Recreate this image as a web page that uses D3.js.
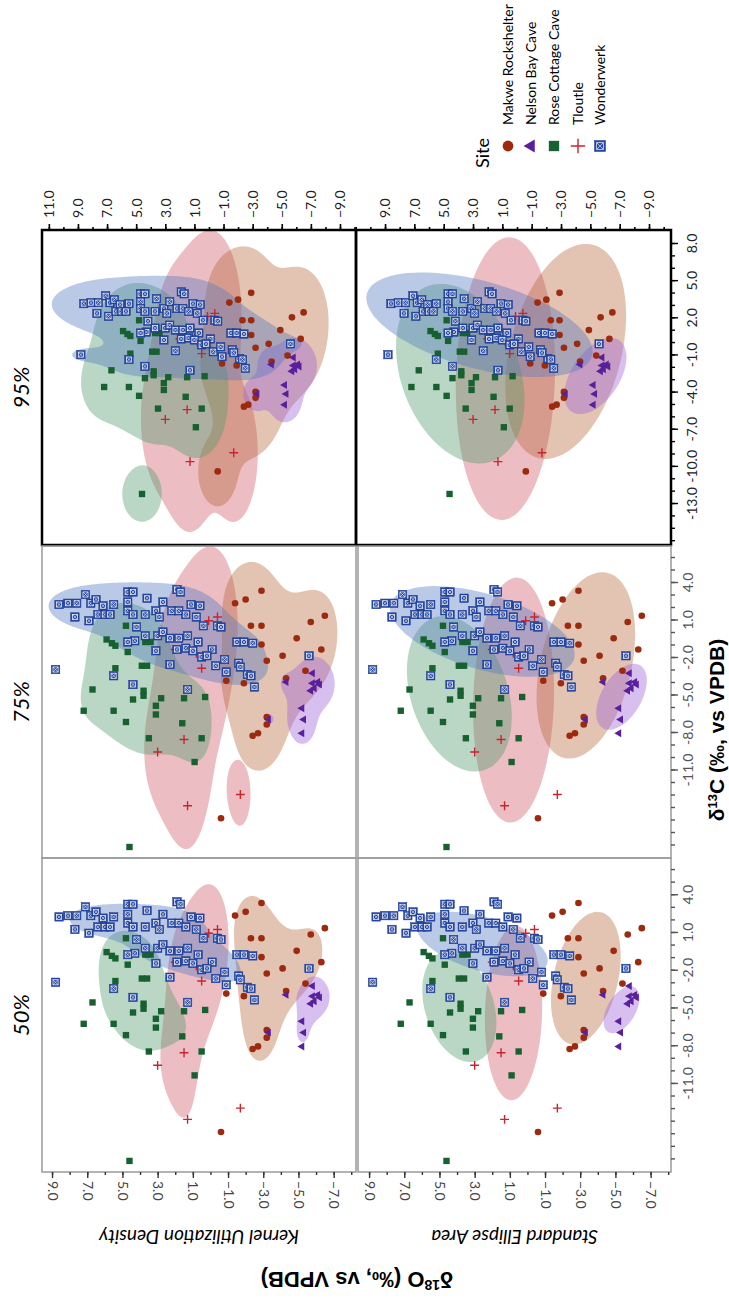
<!DOCTYPE html>
<html>
<head>
<meta charset="utf-8">
<script src="https://cdnjs.cloudflare.com/ajax/libs/d3/7.8.5/d3.min.js"></script>
<style>
body { margin: 0; background: #fff; }
svg text { font-family: Lato, "Open Sans", sans-serif; }
</style>
</head>
<body>
<div id="chart"></div>
<script>
// sites, in legend order
const siteNames = ["Makwe Rockshelter", "Nelson Bay Cave", "Rose Cottage Cave", "Tloutle", "Wonderwerk"];
const pointColors = ["#9c2a0e", "#5a1f9c", "#16612f", "#c8262c", "#2647a3"];
const fillColors = ["#b86a3e", "#9c62d9", "#4f9a6c", "#cf5a6a", "#5277bf"];

// each sample: [d13C, d18O]
const makwe = [
    [2.3, -1.4], [2.6, -2.0], [3.3, -2.9], [0.5, -2.3], [0.5, -2.9], [-1.0, -2.9],
    [-2.3, -3.2], [-1.9, -4.1], [-0.5, -4.9], [0.8, -5.7], [1.3, -6.5], [-1.4, -6.3],
    [-3.7, -4.3], [-3.1, -5.4], [-3.9, -0.9], [-4.1, -1.9], [-6.8, -3.2], [-7.4, -3.2],
    [-8.1, -2.7], [-8.3, -2.4], [-14.9, -0.6]
];
const nelsonBay = [
    [-4.0, -4.3], [-3.3, -5.8], [-4.1, -5.8], [-4.0, -6.1], [-4.2, -6.2], [-4.5, -5.9],
    [-4.7, -5.7], [-6.1, -5.2], [-7.0, -5.3], [-8.1, -5.2], [-7.0, -3.3]
];
const roseCottage = [
    [0.5, 4.8], [-0.6, 5.9], [-0.9, 5.6], [-1.1, 5.4], [-1.6, 4.7], [-0.8, 3.7],
    [-0.8, 3.4], [-2.7, 3.9], [-2.7, 3.6], [-2.9, 5.4], [-4.6, 6.7], [-6.3, 7.2],
    [-6.3, 5.5], [-7.2, 4.8], [-5.4, 4.4], [-4.7, 3.8], [-5.1, 3.8], [-5.3, 2.8],
    [-5.9, 3.1], [-6.6, 3.1], [-5.3, 1.5], [-5.2, 0.3], [-7.3, 1.6], [-8.5, 3.5],
    [-8.5, 0.5], [-10.4, 0.9], [-17.2, 4.6]
];
const tloutle = [
    [0.9, 0.1], [1.2, -0.4], [-1.4, 2.0], [-1.7, 0.8], [-2.9, 0.5], [-8.6, 1.5],
    [-9.6, 3.0], [-13.9, 1.3], [-13.0, -1.7]
];
const wonderwerk = [
    [2.2, 8.6], [2.3, 8.1], [2.3, 7.6], [3.0, 7.1], [1.2, 7.7], [0.9, 6.9], [2.3, 6.8],
    [2.6, 6.5], [1.4, 6.4], [2.1, 6.1], [1.4, 6.0], [2.2, 5.5], [1.4, 5.7], [3.2, 4.7],
    [3.2, 4.4], [2.4, 4.7], [1.7, 4.7], [1.4, 4.4], [0.4, 4.2], [2.7, 3.6], [1.4, 3.7],
    [1.7, 3.1], [2.4, 2.7], [1.2, 2.9], [3.4, 1.9], [1.7, 2.2], [1.7, 1.8], [1.4, 1.4],
    [2.2, 1.1], [2.1, 0.6], [1.2, 0.8], [0.5, 0.4], [-0.7, 4.3], [-0.8, 4.7], [-0.3, 3.7],
    [-0.3, 3.0], [0.0, 2.7], [-0.5, 2.3], [-0.5, 1.8], [-0.3, 1.3], [-1.4, 1.9], [-1.5, 3.1],
    [-2.6, 2.3], [-1.3, 1.4], [-0.8, 0.7], [-1.5, 1.0], [-2.0, 0.5], [-1.4, -0.1], [-1.9, 0.2],
    [-2.7, -0.3], [-2.2, -0.8], [-3.2, -0.9], [-2.5, -1.6], [-0.8, -1.5], [-0.8, -1.9],
    [-3.4, -2.1], [0.5, -0.4], [-3.0, 8.8], [-3.5, 5.5], [-4.2, 4.4], [-4.6, 1.3],
    [-0.9, -2.4], [-4.4, -2.5], [-1.9, -5.6], [3.2, 1.7], [0.4, -0.6], [-3.5, -2.3], [-2.8, -1.7]
];
const siteData = [makwe, nelsonBay, roseCottage, tloutle, wonderwerk];

// panels
const levels = ["95%", "75%", "50%"];
const levelProb = {"95%": 0.95, "75%": 0.75, "50%": 0.5};
const rowLabels = ["Kernel Utilization Density", "Standard Ellipse Area"];

// tick labels
const ticks18O = [9, 7, 5, 3, 1, -1, -3, -5, -7];
const ticks18O95 = [[11, 9, 7, 5, 3, 1, -1, -3, -5, -7, -9], [9, 7, 5, 3, 1, -1, -3, -5, -7, -9]];
const ticks13C = [4, 1, -2, -5, -8, -11];
const ticks13C95 = [8, 5, 2, -1, -4, -7, -10, -13];

let totalWidth = 729, totalHeight = 1315;
const colX = {"95%": [[42, 356], [356, 671]], "75%": [[42, 356], [358, 671]], "50%": [[42, 356], [358, 671]]};
const rowY = {"95%": [230, 545], "75%": [546, 858], "50%": [858, 1172]};

let svg = d3.select("#chart").append("svg")
    .attr("width", totalWidth)
    .attr("height", totalHeight);
let defs = svg.append("defs");

function xScaleFor(level, col) {
    let r = colX[level][col];
    if (level === "95%")
        return d3.scaleLinear().domain(col === 0 ? [11.47, -10.1] : [10.98, -10.5]).range(r);
    return d3.scaleLinear().domain(col === 0 ? [9.57, -8.27] : [9.63, -8.16]).range(r);
}
function yScaleFor(level) {
    if (level === "95%") return d3.scaleLinear().domain([9.7, -22.4]).range(rowY[level]);
    return d3.scaleLinear().domain([6.88, -18.08]).range(rowY[level]);
}

// kernel density contour holding probability p
function kudPath(points, p, x, y) {
    const cell = 2, m = 40;
    const gx0 = x.range()[0] - m, gy0 = y.range()[0] - m;
    const nx = Math.ceil((x.range()[1] - x.range()[0] + 2 * m) / cell);
    const ny = Math.ceil((y.range()[1] - y.range()[0] + 2 * m) / cell);
    const n = points.length;
    const f = Math.pow(n, -1 / 6);
    const hx = d3.deviation(points, d => d[1]) * f;
    const hy = d3.deviation(points, d => d[0]) * f;
    const ox = d3.range(nx).map(i => x.invert(gx0 + (i + 0.5) * cell));
    const cy = d3.range(ny).map(j => y.invert(gy0 + (j + 0.5) * cell));
    const values = new Float64Array(nx * ny);
    points.forEach(pt => {
        const ex = ox.map(o => Math.exp(-0.5 * ((o - pt[1]) / hx) ** 2));
        const ey = cy.map(c => Math.exp(-0.5 * ((c - pt[0]) / hy) ** 2));
        for (let j = 0; j < ny; j++) {
            if (ey[j] < 1e-6) continue;
            for (let i = 0; i < nx; i++) values[j * nx + i] += ex[i] * ey[j];
        }
    });
    const kx = Math.abs(x(1) - x(0)), ky = Math.abs(y(1) - y(0));
    const total = n * 2 * Math.PI * hx * kx * hy * ky / (cell * cell);
    const sorted = Array.from(values).sort((a, b) => b - a);
    let acc = 0, t = sorted[sorted.length - 1];
    for (let k = 0; k < sorted.length; k++) {
        acc += sorted[k];
        if (acc >= p * total) { t = sorted[k]; break; }
    }
    const contour = d3.contours().size([nx, ny]).thresholds([t])(values)[0];
    return d3.geoPath(d3.geoIdentity().scale(cell).translate([gx0, gy0]))(contour);
}

// standard ellipse holding probability p
function seaPath(points, p, x, y) {
    const n = points.length;
    const mo = d3.mean(points, d => d[1]), mc = d3.mean(points, d => d[0]);
    let soo = 0, scc = 0, soc = 0;
    points.forEach(d => {
        soo += (d[1] - mo) ** 2; scc += (d[0] - mc) ** 2; soc += (d[1] - mo) * (d[0] - mc);
    });
    soo /= n - 1; scc /= n - 1; soc /= n - 1;
    const tr = soo + scc, det = soo * scc - soc * soc;
    const l1 = tr / 2 + Math.sqrt(tr * tr / 4 - det), l2 = tr / 2 - Math.sqrt(tr * tr / 4 - det);
    const theta = Math.atan2(l1 - soo, soc);
    const r = Math.sqrt(-2 * Math.log(1 - p));
    const pts = d3.range(0, 360, 4).map(a => {
        const t = a * Math.PI / 180;
        const u = r * Math.sqrt(l1) * Math.cos(t), v = r * Math.sqrt(Math.max(l2, 0)) * Math.sin(t);
        return [x(mo + u * Math.cos(theta) - v * Math.sin(theta)), y(mc + u * Math.sin(theta) + v * Math.cos(theta))];
    });
    return d3.line().curve(d3.curveLinearClosed)(pts);
}

function drawMarker(g, site, cx, cy, s) {
    const col = pointColors[site];
    if (site === 0) {
        g.append("circle").attr("cx", cx).attr("cy", cy).attr("r", s * 0.45).attr("fill", col);
    } else if (site === 1) {
        g.append("path").attr("d", d3.symbol(d3.symbolTriangle, s * s * 0.5)())
            .attr("transform", `translate(${cx},${cy}) rotate(-90)`).attr("fill", col);
    } else if (site === 2) {
        g.append("rect").attr("x", cx - s * 0.43).attr("y", cy - s * 0.43)
            .attr("width", s * 0.86).attr("height", s * 0.86).attr("fill", col);
    } else if (site === 3) {
        const a = s * 0.6;
        g.append("path").attr("d", `M${cx - a},${cy}H${cx + a}M${cx},${cy - a}V${cy + a}`)
            .attr("stroke", col).attr("stroke-width", 1.4).attr("fill", "none");
    } else {
        const a = s * 0.5, b = s * 0.3;
        g.append("rect").attr("x", cx - a).attr("y", cy - a).attr("width", 2 * a).attr("height", 2 * a)
            .attr("fill", col).attr("stroke", "#1b3b8f").attr("stroke-width", 0.5);
        g.append("rect").attr("x", cx - b).attr("y", cy - b).attr("width", 2 * b).attr("height", 2 * b)
            .attr("fill", "none").attr("stroke", "#fff").attr("stroke-width", 0.7);
        g.append("path").attr("d", `M${cx - b},${cy - b}L${cx + b},${cy + b}M${cx - b},${cy + b}L${cx + b},${cy - b}`)
            .attr("stroke", "#fff").attr("stroke-width", 0.6);
    }
}

const fmtLong = d => (d < 0 ? "\u2212" : "") + Math.abs(d).toFixed(1);
const fmtShort = d => d.toFixed(1);
const fillOrder = [3, 0, 2, 1, 4];

levels.forEach(level => {
    const y = yScaleFor(level);
    [0, 1].forEach(col => {
        const x = xScaleFor(level, col);
        const [x0, x1] = colX[level][col], [y0, y1] = rowY[level];
        const clipId = `clip-${level.replace("%", "")}-${col}`;
        defs.append("clipPath").attr("id", clipId)
            .append("rect").attr("x", x0).attr("y", y0).attr("width", x1 - x0).attr("height", y1 - y0);
        const panel = svg.append("g").attr("clip-path", `url(#${clipId})`);

        // home range shapes
        fillOrder.forEach(s => {
            panel.append("path")
                .attr("d", col === 0 ? kudPath(siteData[s], levelProb[level], x, y) : seaPath(siteData[s], levelProb[level], x, y))
                .attr("fill", fillColors[s])
                .attr("fill-opacity", 0.4);
        });

        // samples
        siteData.forEach((pts, s) => {
            pts.forEach(d => drawMarker(panel, s, x(d[1]), y(d[0]), s === 4 ? 8.5 : 7.4));
        });

        // frame
        svg.append("rect")
            .attr("x", x0).attr("y", y0).attr("width", x1 - x0).attr("height", y1 - y0)
            .attr("fill", "none")
            .attr("stroke", level === "95%" ? "#000" : "#9a9a9a")
            .attr("stroke-width", level === "95%" ? 2.5 : 1.5);

        if (level === "95%") {
            // d18O axis on top
            let gMinor = svg.append("g").attr("transform", `translate(0,${y0})`)
                .call(d3.axisTop(x).tickValues(d3.range(-10, 12)).tickSize(3).tickFormat(""));
            let gMajor = svg.append("g").attr("transform", `translate(0,${y0})`)
                .call(d3.axisTop(x).tickValues(ticks18O95[col]).tickSize(6).tickFormat(fmtLong));
            gMajor.selectAll(".tick text")
                .attr("transform", "rotate(-90)")
                .attr("x", 12).attr("y", 0).attr("dy", "0.35em")
                .style("text-anchor", "start")
                .attr("fill", "#222");
            [gMinor, gMajor].forEach(g => {
                g.select(".domain").remove();
                g.selectAll("line").attr("stroke", "#000").attr("stroke-width", 1.6);
                g.selectAll("text").style("font-size", "14px");
            });
        }
    });

    // d13C axis on the right
    const axisY = level === "95%" ? d3.scaleLinear().domain([9.05, -16.39]).range(rowY[level]) : y;
    const majors = level === "95%" ? ticks13C95 : ticks13C;
    const tickCol = level === "95%" ? "#000" : "#555";
    let gMinor = svg.append("g").attr("transform", "translate(671,0)")
        .call(d3.axisRight(axisY).tickValues(d3.range(-17, 10).filter(v => {
            const py = axisY(v); return py > rowY[level][0] + 2 && py < rowY[level][1] - 2;
        })).tickSize(4).tickFormat(""));
    let gMajor = svg.append("g").attr("transform", "translate(671,0)")
        .call(d3.axisRight(axisY).tickValues(majors).tickSize(7).tickFormat(fmtShort));
    gMajor.selectAll(".tick text")
        .attr("transform", `translate(${level === "95%" ? 26 : 22},0) rotate(-90)`)
        .attr("x", 0).attr("y", 0).attr("dy", 0)
        .style("text-anchor", "middle")
        .attr("fill", level === "95%" ? "#222" : "#555");
    [gMinor, gMajor].forEach(g => {
        g.select(".domain").remove();
        g.selectAll("line").attr("stroke", tickCol).attr("stroke-width", 1.4);
        g.selectAll("text").style("font-size", "14px");
    });

    // facet label
    svg.append("text")
        .attr("transform", `translate(21,${(rowY[level][0] + rowY[level][1]) / 2}) rotate(-90)`)
        .attr("text-anchor", "middle")
        .attr("dy", "0.35em")
        .style("font-size", "22px")
        .style("font-style", "italic")
        .text(level);
});

// d18O axis at the bottom of the 50% panels
[0, 1].forEach(col => {
    const x = xScaleFor("50%", col);
    let gMinor = svg.append("g").attr("transform", "translate(0,1172)")
        .call(d3.axisBottom(x).tickValues(d3.range(-8, 10)).tickSize(3).tickFormat(""));
    let gMajor = svg.append("g").attr("transform", "translate(0,1172)")
        .call(d3.axisBottom(x).tickValues(ticks18O).tickSize(6).tickFormat(fmtLong));
    gMajor.selectAll(".tick text")
        .attr("transform", "rotate(90)")
        .attr("x", 9).attr("y", 0).attr("dy", "0.35em")
        .style("text-anchor", "start")
        .attr("fill", "#444");
    [gMinor, gMajor].forEach(g => {
        g.select(".domain").remove();
        g.selectAll("line").attr("stroke", "#333").attr("stroke-width", 1.4);
        g.selectAll("text").style("font-size", "14px");
    });

    // row label, upside down
    svg.append("text")
        .attr("transform", `translate(${(colX["50%"][col][0] + colX["50%"][col][1]) / 2},1230) rotate(180)`)
        .attr("text-anchor", "middle")
        .style("font-size", "19px")
        .style("font-style", "italic")
        .text(rowLabels[col]);
});

// axis titles
let t18 = svg.append("text")
    .attr("transform", "translate(357,1272) rotate(180)")
    .attr("text-anchor", "middle")
    .style("font-family", "'Liberation Sans', Arial, sans-serif")
    .style("font-weight", "bold")
    .style("font-size", "22px");
t18.append("tspan").text("\u03b4");
t18.append("tspan").attr("baseline-shift", "super").style("font-size", "14px").text("18");
t18.append("tspan").text("O (\u2030, vs VPDB)");

let t13 = svg.append("text")
    .attr("transform", "translate(724,730) rotate(-90)")
    .attr("text-anchor", "middle")
    .style("font-family", "'Liberation Sans', Arial, sans-serif")
    .style("font-weight", "bold")
    .style("font-size", "21px");
t13.append("tspan").text("\u03b4");
t13.append("tspan").attr("baseline-shift", "super").style("font-size", "13px").text("13");
t13.append("tspan").text("C (\u2030, vs VPDB)");

// legend
let legend = svg.append("g").attr("class", "legend");
legend.append("text")
    .attr("transform", "translate(489,168) rotate(-90)")
    .style("font-size", "18px")
    .text("Site");
const legendX = [508, 531, 554, 578, 600];
siteNames.forEach((name, s) => {
    drawMarker(legend, s, legendX[s], 146, s === 4 ? 11 : 12);
    legend.append("text")
        .attr("transform", `translate(${legendX[s] + 5},125) rotate(-90)`)
        .style("font-size", "14px")
        .text(name);
});
</script>
</body>
</html>
